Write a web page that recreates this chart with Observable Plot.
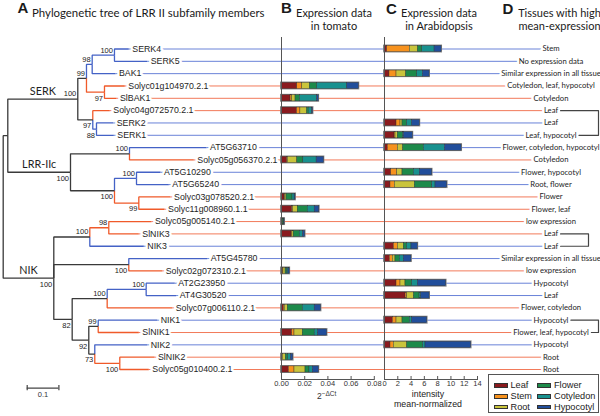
<!DOCTYPE html>
<html><head><meta charset="utf-8">
<script src="https://cdn.jsdelivr.net/npm/d3@7"></script>
<script src="https://cdn.jsdelivr.net/npm/@observablehq/plot@0.6"></script>
<style>
body{margin:0;background:#fff;}
#fig{position:relative;width:600px;height:416px;overflow:hidden;background:#fff;}
#fig > svg, #fig > div.lay {position:absolute;left:0;top:0;}
#legend{position:absolute;left:488px;top:374px;width:111px;height:39px;border:1px solid #555;box-sizing:border-box;font-family:"Liberation Sans",Arial,sans-serif;font-size:9.2px;color:#222;}
#legend .sw{position:absolute;width:14px;height:4.5px;border:0.5px solid #333;box-sizing:border-box;}
#legend .tx{position:absolute;line-height:10px;}
</style></head><body><div id="fig"></div>
<script>
// ---------------- DATA ----------------
// Phylogeny (branch lengths; internal labels = bootstrap[#clade])
const newick = `(
 (
  (
   (
    ((SERK4:0.0451,SERK5:0.1032)100:0.0703,BAK1:0.0735)98:0.018,
    (Solyc01g104970.2.1:0.064,SlBAK1:0.0379)97:0.0568
   )99:0.0274,
   (Solyc04g072570.2.1:0.0536,(SERK2:0.0527,SERK1:0.0546)88:0.0117)97:0.0473
  )100#SERK:0.2208,
  (
   (AT5G63710:0.2429,Solyc05g056370.2.1:0.2028)100:0.1861,
   ((AT5G10290:0.0757,AT5G65240:0.1019)100:0.0694,(Solyc03g078520.2.1:0.1,Solyc11g008960.1.1:0.0811)99:0.0767)100:0.1388
  )100#LRR-IIc:0.1978
 ):0.0145,
 (
  ((Solyc05g005140.2.1:0.1347,SlNIK3:0.0946)98:0.0599,NIK3:0.1703)100:0.1136,
  (AT5G45780:0.2473,Solyc02g072310.2.1:0.1054)100:0.2366,
  (
   ((AT2G23950:0.0902,AT4G30520:0.0946)100:0.123,Solyc07g006110.2.1:0.205)100:0.1104,
   ((NIK1:0.1861,SlNIK1:0.1281)99:0.0297,(NIK2:0.1653,(SlNIK2:0.1095,Solyc05g010400.2.1:0.0915)100:0.0789)73:0.0189)92:0.0524
  )82:0.058
 )100#NIK:0.1596
);`;

const tissues = ["Leaf", "Stem", "Root", "Flower", "Cotyledon", "Hypocotyl"];
const tissueColors = ["#8a1a1e", "#f7921e", "#c9c43c", "#1d8a4a", "#18918f", "#214e9b"];

// B: expression in tomato (2^-ΔCt)
const tomatoGenes = ["Solyc01g104970.2.1","SlBAK1","Solyc04g072570.2.1","Solyc05g056370.2.1","Solyc03g078520.2.1","Solyc11g008960.1.1","Solyc05g005140.2.1","SlNIK3","Solyc02g072310.2.1","Solyc07g006110.2.1","SlNIK1","SlNIK2","Solyc05g010400.2.1"];
const tomatoLeaf      = [0.0136,0.0078,0.0134,0.0049,0.0026,0.0092,0.0008,0.0086,0.0011,0.0020,0.0092,0.0008,0.0063];
const tomatoStem      = [0.0043,0.0014,0.0029,0.0006,0.0006,0.0008,0.0000,0.0008,0.0006,0.0008,0.0020,0.0003,0.0049];
const tomatoRoot      = [0.0065,0.0029,0.0058,0.0081,0.0011,0.0040,0.0003,0.0011,0.0018,0.0026,0.0071,0.0026,0.0095];
const tomatoFlower    = [0.0064,0.0037,0.0014,0.0052,0.0052,0.0086,0.0012,0.0052,0.0014,0.0129,0.0103,0.0021,0.0034];
const tomatoCotyledon = [0.0259,0.0149,0.0029,0.0115,0.0018,0.0060,0.0000,0.0029,0.0011,0.0103,0.0029,0.0023,0.0029];
const tomatoHypocotyl = [0.0100,0.0014,0.0008,0.0063,0.0008,0.0040,0.0004,0.0018,0.0011,0.0055,0.0078,0.0020,0.0052];

// C: expression in Arabidopsis (intensity, mean-normalized)
const arabGenes = ["SERK4","BAK1","SERK2","SERK1","AT5G63710","AT5G10290","AT5G65240","NIK3","AT5G45780","AT2G23950","AT4G30520","NIK1","NIK2"];
const arabLeaf      = [0.40,0.75,1.81,1.51,0.50,1.01,0.90,1.41,0.80,1.81,3.17,1.26,0.90];
const arabStem      = [3.42,1.06,0.60,0.15,1.51,0.90,0.65,0.60,0.45,0.60,0.25,0.55,0.50];
const arabRoot      = [1.21,1.46,0.30,0.35,0.80,0.80,3.02,0.90,0.40,0.75,1.01,0.90,2.01];
const arabFlower    = [0.65,1.66,0.70,0.80,3.12,1.71,2.61,0.50,0.65,1.01,0.85,1.11,2.41];
const arabCotyledon = [1.86,0.85,0.75,0.10,3.17,0.90,0.50,0.65,0.60,0.85,0.25,0.35,0.35];
const arabHypocotyl = [1.06,1.01,1.16,1.36,2.51,1.86,1.76,0.95,1.16,4.27,1.26,2.26,6.88];

// D: tissues with high mean-expression (tree order)
const tissueNotes = ["Stem","No expression data","Similar expression in all tissue","Cotyledon, leaf, hypocotyl","Cotyledon","Leaf","Leaf","Leaf, hypocotyl","Flower, cotyledon, hypocotyl","Cotyledon","Flower, hypocotyl","Root, flower","Flower","Flower, leaf","low expression","Leaf","Leaf","Similar expression in all tissue","low expression","Hypocotyl","Leaf","Flower, cotyledon","Hypocotyl","Flower, leaf, hypocotyl","Hypocotyl","Root","Root"];
const bracketTop    = ["Solyc04g072570.2.1","SlNIK3","NIK1"];
const bracketBottom = ["SERK1","NIK3","SlNIK1"];
const bracketInset  = [2, 12, 2];

const tomatoTicks = [0, 0.02, 0.04, 0.06, 0.08];
const arabTicks = [0, 2, 4, 6, 8, 10, 12, 14];
const scaleBarLength = 0.1;

// ---------------- LAYOUT ----------------
const W = 600, H = 416;
const rowRange = [48.5, 369];
const treeX0 = 2.7, pxPerUnit = 317, treeRight = 552;
const bRange = [281, 373.8], cRange = [384, 477];
const axisTop = 37, axisBottom = 379;
const dCenter = 550.5;
const FS = "Liberation Sans, Arial, sans-serif";
const FL = "Lato, sans-serif";
const transparent = {background: "transparent", overflow: "visible"};
const speciesColor = {At: "#4462c6", Sl: "#f05a2a", mix: "#3a3a3a"};
const rowLineColor = {At: "#6a83d8", Sl: "#f27a5a"};

// ---------------- TREE ----------------
function parseNewick(str) {
  const s = str.replace(/\s+/g, "");
  let i = 0;
  function node() {
    const n = {children: [], label: "", length: 0};
    if (s[i] === "(") {
      i++;
      n.children.push(node());
      while (s[i] === ",") { i++; n.children.push(node()); }
      i++; // ')'
    }
    let lab = "";
    while (i < s.length && !",():;".includes(s[i])) lab += s[i++];
    n.label = lab;
    if (s[i] === ":") {
      i++; let num = "";
      while (i < s.length && !",();".includes(s[i])) num += s[i++];
      n.length = +num;
    }
    return n;
  }
  return node();
}
const root = parseNewick(newick);
const leaves = [], internals = [], edges = [];
let rowCounter = 0;
(function layout(n, px) {
  n.x = px + n.length;
  if (!n.children.length) {
    n.y = rowCounter++;
    n.species = /^(Solyc|Sl)/.test(n.label) ? "Sl" : "At";
    leaves.push(n);
  } else {
    n.children.forEach((c, k) => { c.parent = n; c.first = k === 0; layout(c, n.x); });
    n.y = (n.children[0].y + n.children[n.children.length - 1].y) / 2;
    const sp = new Set(n.children.map(c => c.species));
    n.species = sp.size === 1 ? [...sp][0] : "mix";
    const [bs, clade] = n.label.split("#");
    n.bootstrap = bs || null; n.clade = clade || null;
    internals.push(n);
  }
})(root, 0);
for (const n of internals) for (const c of n.children)
  edges.push({x1: n.x, y1: n.y, x2: c.x, y2: c.y, color: speciesColor[c.species]});
const rowOf = new Map(leaves.map(l => [l.label, l.y]));
const bsAbove = internals.filter(n => n.bootstrap && n.first);
const bsBelow = internals.filter(n => n.bootstrap && !n.first);
const cladeLabels = internals.filter(n => n.clade).map(n => ({x: (n.parent.x + n.x) / 2, y: n.y, text: n.clade}));
const rowLineEnd = (treeRight - treeX0) / pxPerUnit; // right edge of the tree frame, in tree units

const fig = document.getElementById("fig");

const tree = Plot.plot({
  width: W, height: H, marginTop: 0, marginBottom: 0, marginLeft: 0, marginRight: W - treeRight,
  x: {domain: [0, 0.1], range: [treeX0, treeX0 + 0.1 * pxPerUnit], axis: null},
  y: {domain: [0, 26], range: rowRange, axis: null},
  color: {type: "identity"},
  style: transparent,
  marks: [
    Plot.link(leaves, {x1: "x", x2: () => rowLineEnd, y1: "y", y2: "y", stroke: d => rowLineColor[d.species], strokeWidth: 1}),
    Plot.link(edges, {x1: "x1", y1: "y1", x2: "x2", y2: "y2", curve: "step-before", stroke: d => d.color, strokeWidth: 1.3}),
    Plot.text(leaves, {x: "x", y: "y", text: "label", textAnchor: "start", dx: 3.5, fontSize: 8.8, fontFamily: FS, fill: "white", stroke: "white", strokeWidth: 5, strokeLinejoin: "round"}),
    Plot.text(leaves, {x: "x", y: "y", text: "label", textAnchor: "start", dx: 3.5, fontSize: 8.8, fontFamily: FS, fill: "#1e1e1e"}),
    Plot.text(bsAbove, {x: "x", y: "y", text: "bootstrap", textAnchor: "end", dx: -1.5, dy: -5, fontSize: 7.5, fontFamily: FS, fill: "#222"}),
    Plot.text(bsBelow, {x: "x", y: "y", text: "bootstrap", textAnchor: "end", dx: -1.5, dy: 6, fontSize: 7.5, fontFamily: FS, fill: "#222"}),
    Plot.text(cladeLabels, {x: "x", y: "y", text: "text", dy: -7.5, fontSize: 10.8, fontFamily: FL, fill: "#1e1e1e"})
  ]
});
fig.appendChild(tree);

// ---------------- BARS ----------------
function stackRows(genes, cols) {
  const segs = [], totals = [];
  genes.forEach((g, i) => {
    let acc = 0;
    cols.forEach((arr, t) => {
      const v = arr[i];
      if (v > 0) segs.push({y: rowOf.get(g), x1: acc, x2: acc + v, fill: tissueColors[t]});
      acc += v;
    });
    totals.push({y: rowOf.get(g), total: acc});
  });
  return {segs, totals};
}
function barPanel(range, domain, ticks, fmt, stacked) {
  return Plot.plot({
    width: W, height: H, marginTop: axisTop, marginBottom: H - axisBottom,
    marginLeft: range[0], marginRight: W - range[1],
    x: {domain},
    y: {domain: [0, 26], range: rowRange, axis: null},
    color: {type: "identity"},
    style: transparent,
    marks: [
      Plot.rect(stacked.totals, {x1: 0, x2: "total", y1: d => d.y - 0.25, y2: d => d.y + 0.25, fill: "none", stroke: "#8c8c8c", strokeWidth: 1.8}),
      Plot.rect(stacked.segs, {x1: "x1", x2: "x2", y1: d => d.y - 0.25, y2: d => d.y + 0.25, fill: "fill", stroke: "#333", strokeWidth: 0.4}),
      Plot.ruleX([0], {stroke: "#555", strokeWidth: 1}),
      Plot.frame({anchor: "bottom", stroke: "#555"}),
      Plot.ruleX(ticks, {insetTop: (axisBottom - axisTop) - 3, stroke: "#555"}),
      Plot.axisX(ticks, {tickSize: 0, tickPadding: 1.5, tickFormat: fmt, fontSize: 7.5, fontFamily: FS, fill: "#333", label: null})
    ]
  });
}
const tomatoStack = stackRows(tomatoGenes, [tomatoLeaf, tomatoStem, tomatoRoot, tomatoFlower, tomatoCotyledon, tomatoHypocotyl]);
const arabStack = stackRows(arabGenes, [arabLeaf, arabStem, arabRoot, arabFlower, arabCotyledon, arabHypocotyl]);
fig.appendChild(barPanel(bRange, [0, 0.08], tomatoTicks, d3.format(".2f"), tomatoStack));
fig.appendChild(barPanel(cRange, [0, 14], arabTicks, d3.format("d"), arabStack));

// ---------------- D: notes & brackets ----------------
const ctx = document.createElement("canvas").getContext("2d");
const noteFont = 7.7;
ctx.font = `${noteFont}px Lato`;
const notes = tissueNotes.map((t, i) => ({y: i, text: t, w: ctx.measureText(t).width}));
const bracketPts = [];
bracketTop.forEach((top, k) => {
  const yt = rowOf.get(top), yb = rowOf.get(bracketBottom[k]);
  const xv = W - bracketInset[k];
  bracketPts.push(
    {k, x: dCenter + notes[yt].w / 2 + 2.5, y: yt},
    {k, x: xv, y: yt},
    {k, x: xv, y: yb},
    {k, x: dCenter + notes[yb].w / 2 + 2.5, y: yb});
});
const dPlot = Plot.plot({
  width: W, height: H, margin: 0,
  x: {type: "identity", axis: null},
  y: {domain: [0, 26], range: rowRange, axis: null},
  style: transparent,
  marks: [
    Plot.text(notes, {x: dCenter, y: "y", text: "text", fontSize: noteFont, fontFamily: FL, fill: "white", stroke: "white", strokeWidth: 5, strokeLinejoin: "round"}),
    Plot.text(notes, {x: dCenter, y: "y", text: "text", fontSize: noteFont, fontFamily: FL, fill: "#1e1e1e"}),
    Plot.line(bracketPts, {x: "x", y: "y", z: "k", stroke: "#444", strokeWidth: 1.2, curve: "linear"})
  ]
});
fig.appendChild(dPlot);

// ---------------- scale bar ----------------
const sb = Plot.plot({
  width: 70, height: 30, marginTop: 7, marginBottom: 17.8, marginLeft: 0, marginRight: 0,
  x: {domain: [0, scaleBarLength], range: [26.7, 26.7 + scaleBarLength * pxPerUnit], axis: null},
  y: {domain: [0, 1], axis: null},
  style: transparent,
  marks: [
    Plot.ruleY([0.5], {x1: 0, x2: scaleBarLength, stroke: "#444", strokeWidth: 1.2}),
    Plot.ruleX([0, scaleBarLength], {stroke: "#444", strokeWidth: 1.2}),
    Plot.text([scaleBarLength], {x: d => d / 2, y: 0, dy: 4, text: d => String(d), fontSize: 7.5, fontFamily: FS, fill: "#333"})
  ]
});
sb.style.position = "absolute"; sb.style.left = "0px"; sb.style.top = "378px";
fig.appendChild(sb);

// ---------------- titles ----------------
const ann = d3.create("svg").attr("width", W).attr("height", H).style("position", "absolute").style("left", 0).style("top", 0).style("overflow", "visible");
const TS = 11;
const labels = [
  {t: "A", x: 17.5, y: 13, f: FS, s: 15, w: "bold"},
  {t: "Phylogenetic tree of LRR II subfamily members", x: 32, y: 16.7, f: FL, s: 11.4},
  {t: "B", x: 281, y: 12.5, f: FS, s: 15, w: "bold"},
  {t: "Expression data", x: 334, y: 16.7, f: FL, s: TS, a: "middle"},
  {t: "in tomato", x: 334, y: 29.7, f: FL, s: TS, a: "middle"},
  {t: "C", x: 386, y: 13.5, f: FS, s: 15, w: "bold"},
  {t: "Expression data", x: 439, y: 16.7, f: FL, s: TS, a: "middle"},
  {t: "in Arabidopsis", x: 439, y: 29.7, f: FL, s: TS, a: "middle"},
  {t: "D", x: 502.5, y: 13.5, f: FS, s: 15, w: "bold"},
  {t: "Tissues with high", x: 559.5, y: 16.7, f: FL, s: TS, a: "middle"},
  {t: "mean-expression", x: 559.5, y: 29.7, f: FL, s: TS, a: "middle"},
  {t: "intensity", x: 428, y: 397, f: FS, s: 8.8, a: "middle"},
  {t: "mean-normalized", x: 428, y: 407, f: FS, s: 8.8, a: "middle"}
];
for (const l of labels) {
  ann.append("text").attr("x", l.x).attr("y", l.y).attr("font-family", l.f).attr("font-size", l.s)
    .attr("font-weight", l.w || "normal").attr("text-anchor", l.a || "start").attr("fill", "#1a1a1a").text(l.t);
}
const dct = ann.append("text").attr("x", 317).attr("y", 399).attr("font-family", FS).attr("font-size", 8.5).attr("fill", "#333");
dct.append("tspan").text("2");
dct.append("tspan").attr("dy", -3.5).attr("font-size", 6.5).text("−ΔCt");
fig.appendChild(ann.node());

// ---------------- legend ----------------
const leg = document.createElement("div");
leg.id = "legend";
tissues.forEach((t, i) => {
  const col = Math.floor(i / 3), r = i % 3;
  const cy = [10.5, 21.5, 32][r];
  const sx = col === 0 ? 4.5 : 48;
  const sw = document.createElement("div");
  sw.className = "sw"; sw.style.left = sx + "px"; sw.style.top = (cy - 2.5) + "px"; sw.style.background = tissueColors[i];
  const tx = document.createElement("div");
  tx.className = "tx"; tx.style.left = (sx + 17) + "px"; tx.style.top = (cy - 5.5) + "px"; tx.textContent = t;
  leg.appendChild(sw); leg.appendChild(tx);
});
fig.appendChild(leg);
</script></body></html>
